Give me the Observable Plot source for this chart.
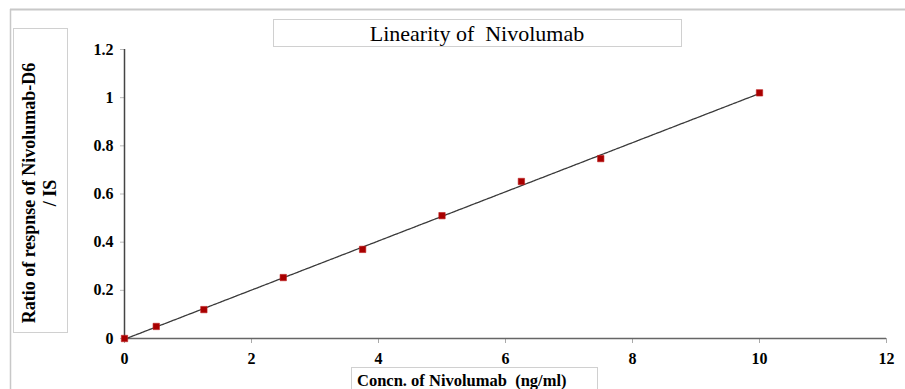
<!DOCTYPE html>
<html><head><meta charset="utf-8">
<script src="https://cdn.jsdelivr.net/npm/d3@7"></script>
<script src="https://cdn.jsdelivr.net/npm/@observablehq/plot@0.6"></script>
<style>
body{margin:0;background:#fff;}
#chart{position:relative;width:905px;height:389px;overflow:hidden;}
svg{overflow:visible;}
g[aria-label$="tick label"]{font-size:16px !important;font-weight:bold;}
g[aria-label$="tick label"] text{font-size:16px !important;}
</style></head><body><div id="chart"></div>
<script>
const concentrations = [0, 0.5, 1.25, 2.5, 3.75, 5, 6.25, 7.5, 10];
const ratios = [0, 0.05, 0.12, 0.253, 0.37, 0.51, 0.652, 0.747, 1.02];
const xTicks = [0, 2, 4, 6, 8, 10, 12];
const yTicks = [0, 0.2, 0.4, 0.6, 0.8, 1, 1.2];
const titleText = "Linearity of  Nivolumab";
const xLabel = "Concn. of Nivolumab  (ng/ml)";
const yLabelLines = ["Ratio of respnse of Nivolumab-D6", "/ IS"];

const data = concentrations.map((c, i) => ({x: c, y: ratios[i]}));
const serif = "'Liberation Serif', 'Times New Roman', serif";

const plot = Plot.plot({
  width: 905, height: 389,
  marginLeft: 124, marginRight: 19, marginTop: 49, marginBottom: 51,
  style: {fontFamily: serif, fontSize: "15px", background: "transparent", overflow: "visible"},
  x: {domain: [0, 12], ticks: xTicks, tickFormat: d => String(d), label: null},
  y: {domain: [0, 1.2], ticks: yTicks, tickFormat: d => String(d), label: null},
  marks: [
    Plot.axisX({ticks: xTicks, tickSize: 5, tickPadding: 9, stroke: "#aaa", fill: "#000", fontSize: 16, fontWeight: "bold", label: null, tickFormat: d => String(d)}),
    Plot.axisY({ticks: yTicks, tickSize: 4, tickPadding: 7, stroke: "#bbb", fill: "#000", fontSize: 16, fontWeight: "bold", label: null, tickFormat: d => String(d)}),
    Plot.ruleY([0], {stroke: "#666", strokeWidth: 1.5}),
    Plot.ruleX([0], {stroke: "#444", strokeWidth: 1.5}),
    Plot.linearRegressionY(data, {x: "x", y: "y", ci: 0, stroke: "#3a3a3a", strokeWidth: 1.3, strokeDasharray: "2.5,0.8"}),
    Plot.dot(data, {x: "x", y: "y", symbol: "square", r: 3.6, fill: "#a80000", stroke: "#c02020", strokeWidth: 0.6})
  ]
});
document.getElementById("chart").appendChild(plot);

const svg = d3.select(plot);
// outer chart frame
svg.append("line").attr("x1", 10).attr("x2", 905).attr("y1", 9.5).attr("y2", 9.5).attr("stroke", "#c8c8c8").attr("stroke-width", 2);
svg.append("line").attr("x1", 10.5).attr("x2", 10.5).attr("y1", 9).attr("y2", 389).attr("stroke", "#c8c8c8").attr("stroke-width", 1.5);

// title box
svg.append("rect").attr("x", 273.5).attr("y", 19.5).attr("width", 408).attr("height", 27).attr("fill", "#fff").attr("stroke", "#d0d0d0");
svg.append("text").attr("x", 477).attr("y", 40.5).attr("text-anchor", "middle")
  .attr("font-family", serif).attr("font-size", 22).attr("fill", "#000").text(titleText);

// y label box
svg.append("rect").attr("x", 13.5).attr("y", 28.5).attr("width", 54).attr("height", 304).attr("fill", "#fff").attr("stroke", "#d0d0d0");
const yl = svg.append("text").attr("transform", "translate(40,193) rotate(-90)").attr("text-anchor", "middle")
  .attr("font-family", serif).attr("font-size", 18).attr("font-weight", "bold").attr("fill", "#000");
yLabelLines.forEach((t, i) => yl.append("tspan").attr("x", 0).attr("dy", i === 0 ? -5 : 21).text(t));

// x label box
svg.append("rect").attr("x", 351.5).attr("y", 367.5).attr("width", 246).attr("height", 30).attr("fill", "#fff").attr("stroke", "#d0d0d0");
svg.append("text").attr("x", 357).attr("y", 386).attr("text-anchor", "start")
  .attr("font-family", serif).attr("font-size", 16.5).attr("font-weight", "bold").attr("fill", "#000")
  .style("white-space", "pre").text(xLabel);
</script></body></html>
